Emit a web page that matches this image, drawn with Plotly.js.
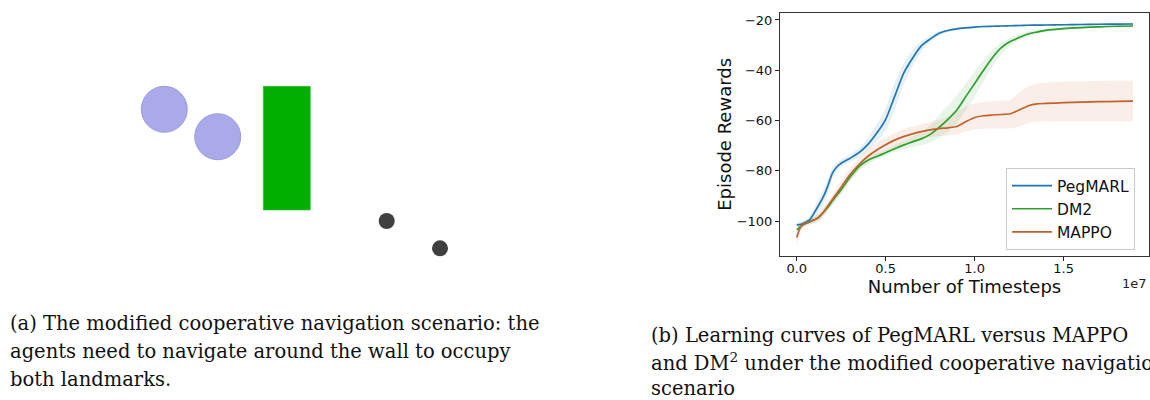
<!DOCTYPE html>
<html>
<head>
<meta charset="utf-8">
<script src="https://cdn.plot.ly/plotly-3.0.1.min.js"></script>
<style>html,body{margin:0;padding:0;background:#fff;}#chart{width:1150px;height:400px;}</style>
</head>
<body>
<div id="chart"></div>
<script>
// ---------- Learning-curve data (x in units of 1e7 timesteps) ----------
const timesteps = [0,0.025,0.05,0.075,0.1,0.125,0.15,0.175,0.2,0.225,0.25,0.3,0.35,0.4,0.45,0.5,0.55,0.6,0.65,0.7,0.75,0.8,0.85,0.9,0.95,1.0,1.05,1.1,1.15,1.2,1.25,1.3,1.35,1.4,1.5,1.6,1.7,1.8,1.89];

const pegmarlMean  = [-101.5,-101.3,-100.5,-99.3,-96.5,-93.5,-90.3,-86,-81,-78.5,-77,-75,-72.8,-69.5,-65,-59.5,-50.5,-41.3,-35.3,-30.3,-27.6,-25.3,-24.2,-23.5,-23.1,-22.8,-22.6,-22.5,-22.4,-22.3,-22.2,-22.1,-22.05,-22,-21.9,-21.8,-21.7,-21.65,-21.6];
const pegmarlUpper = [-100.5,-100.3,-99.5,-97.8,-94.5,-91,-87.5,-83,-78.8,-76.8,-75.5,-73.5,-71,-67,-61.5,-55,-45,-37.5,-32,-28.5,-26.2,-24.5,-23.6,-23,-22.7,-22.4,-22.2,-22.1,-22,-21.9,-21.8,-21.75,-21.7,-21.65,-21.55,-21.45,-21.4,-21.35,-21.3];
const pegmarlLower = [-102.5,-102.3,-101.5,-100.8,-98.5,-96,-93,-89,-83.2,-80.2,-78.5,-76.5,-74.6,-72,-68.5,-64,-56,-46,-38.5,-32.5,-28.8,-26.2,-24.8,-24,-23.5,-23.2,-23,-22.9,-22.8,-22.7,-22.6,-22.45,-22.4,-22.35,-22.25,-22.15,-22.05,-21.95,-21.9];

const dm2Mean  = [-103.5,-102,-101,-100.3,-99.5,-98.5,-96.5,-94.5,-92,-89.7,-87.5,-82.5,-78.3,-75.8,-74.3,-72.8,-71.2,-69.8,-68.5,-67.3,-65.5,-62.7,-59.5,-55.8,-50.5,-45.3,-40,-35,-31,-28.6,-27,-25.6,-24.8,-24.1,-23.4,-23,-22.7,-22.5,-22.4];
const dm2Upper = [-102,-100.8,-100,-99.3,-98.3,-97,-95,-92.8,-90.3,-88,-85.8,-81,-77,-74.6,-73,-71.5,-69.8,-68.2,-66.5,-64.7,-61.8,-57.8,-54,-50,-45.3,-40.5,-36,-32,-29,-27,-25.6,-24.6,-23.9,-23.4,-22.9,-22.6,-22.4,-22.2,-22.1];
const dm2Lower = [-105,-103.2,-102,-101.3,-100.7,-100,-98,-96.2,-93.7,-91.4,-89.2,-84,-79.6,-77.2,-75.6,-74.1,-72.6,-71.4,-70.5,-69.8,-68.8,-67,-64.5,-61,-56,-50.5,-44.5,-38.5,-33.5,-30.3,-28.3,-26.6,-25.7,-24.8,-23.9,-23.4,-23,-22.8,-22.7];

const mappoMean  = [-106.5,-102,-100.8,-100.2,-99.5,-98.3,-96.5,-94,-91.5,-89,-86.5,-81.5,-77.5,-74.2,-71.7,-69.6,-67.8,-66.4,-65.3,-64.4,-63.7,-63.2,-62.9,-62.4,-60.5,-58.8,-58.1,-57.8,-57.6,-57.3,-55.8,-54.2,-53.4,-53.2,-52.9,-52.7,-52.5,-52.4,-52.3];
const mappoUpper = [-103,-100.5,-99.6,-99,-98.2,-96.8,-94.8,-92.2,-89.5,-86.8,-84.2,-79,-75,-71.6,-69,-66.9,-65,-63.6,-62.4,-61.5,-60.7,-59.8,-58.5,-56.5,-54.5,-53.2,-52.6,-52.3,-52,-51.8,-49,-46.5,-45.3,-45,-44.6,-44.4,-44.3,-44.2,-44.2];
const mappoLower = [-110,-103.5,-102,-101.4,-100.8,-99.8,-98.2,-95.8,-93.5,-91.2,-88.8,-84,-80,-76.8,-74.4,-72.3,-70.6,-69.2,-68.2,-67.3,-66.7,-66.2,-66,-65.6,-64.4,-63.6,-63.3,-63.2,-63.2,-63.2,-62.5,-61,-60.5,-60.4,-60.3,-60.3,-60.3,-60.3,-60.3];

const seriesNames = ["PegMARL", "DM2", "MAPPO"];
const xTickVals = [0, 0.5, 1.0, 1.5];
const yTickVals = [-100, -80, -60, -40, -20];

// ---------- Scenario illustration (panel a), in panel pixel units ----------
const agentX = [164.3, 217.7];
const agentY = [109.3, 136.7];
const landmarkX = [386.7, 440];
const landmarkY = [221, 248.3];
const wallX = [263.3, 310.3];
const wallY = [86.3, 210];

// ---------- Captions ----------
const captionA = ["(a) The modified cooperative navigation scenario: the",
                  "agents need to navigate around the wall to occupy",
                  "both landmarks."];
const captionB = ["(b) Learning curves of PegMARL versus MAPPO",
                  "and DM<sup>2</sup> under the modified cooperative navigation",
                  "scenario"];

const colors = {PegMARL: "#1f77b4", DM2: "#2ca02c", MAPPO: "#c4602d"};
const bandColors = {PegMARL: "rgba(31,119,180,0.11)", DM2: "rgba(44,160,44,0.11)", MAPPO: "rgba(196,96,45,0.11)"};

const data = [];
const groups = [
  ["PegMARL", pegmarlMean, pegmarlUpper, pegmarlLower],
  ["DM2", dm2Mean, dm2Upper, dm2Lower],
  ["MAPPO", mappoMean, mappoUpper, mappoLower]
];
groups.forEach(([name, m, u, l]) => {
  data.push({x: timesteps, y: l, type: "scatter", mode: "lines", line: {width: 0, shape: "spline", smoothing: 0.6},
             showlegend: false, hoverinfo: "skip", xaxis: "x", yaxis: "y"});
  data.push({x: timesteps, y: u, type: "scatter", mode: "lines", line: {width: 0, shape: "spline", smoothing: 0.6},
             fill: "tonexty", fillcolor: bandColors[name], showlegend: false, hoverinfo: "skip", xaxis: "x", yaxis: "y"});
});
groups.forEach(([name, m]) => {
  data.push({x: timesteps, y: m, type: "scatter", mode: "lines", name: name,
             line: {color: colors[name], width: 1.7, shape: "spline", smoothing: 0.6}, xaxis: "x", yaxis: "y"});
});

// Panel (a) illustration
data.push({x: [wallX[0], wallX[1], wallX[1], wallX[0], wallX[0]],
           y: [wallY[0], wallY[0], wallY[1], wallY[1], wallY[0]],
           type: "scatter", mode: "lines", fill: "toself", fillcolor: "#00b000",
           line: {color: "#33bb33", width: 0.6}, showlegend: false, hoverinfo: "skip", xaxis: "x2", yaxis: "y2"});
data.push({x: agentX, y: agentY, type: "scatter", mode: "markers",
           marker: {size: 46, color: "#aaaaea", line: {color: "#9d9de0", width: 1}},
           showlegend: false, hoverinfo: "skip", xaxis: "x2", yaxis: "y2"});
data.push({x: landmarkX, y: landmarkY, type: "scatter", mode: "markers",
           marker: {size: 16, color: "#404040", line: {width: 0}},
           showlegend: false, hoverinfo: "skip", xaxis: "x2", yaxis: "y2"});

const capFont = {family: "DejaVu Serif, serif", size: 19.5, color: "#111"};
const annotations = [];
captionA.forEach((t, i) => annotations.push({text: t, xref: "paper", yref: "paper", x: 8/1150, y: 1 - [323, 351, 379][i]/400,
  xanchor: "left", yanchor: "middle", showarrow: false, font: capFont}));
captionB.forEach((t, i) => annotations.push({text: t, xref: "paper", yref: "paper", x: 649/1150, y: 1 - [335, 362, 388][i]/400,
  xanchor: "left", yanchor: "middle", showarrow: false, font: capFont}));
annotations.push({text: "1e7", xref: "paper", yref: "paper", x: 1149/1150, y: 1 - 283/400, xanchor: "right", yanchor: "middle",
  showarrow: false, font: {family: "DejaVu Sans", size: 13, color: "#222"}});

const axisFont = {family: "DejaVu Sans", size: 13, color: "#111"};
const layout = {
  width: 1150, height: 400,
  margin: {l: 0, r: 0, t: 0, b: 0},
  paper_bgcolor: "#fff", plot_bgcolor: "#fff",
  showlegend: true,
  legend: {x: 1006/1150, y: 1 - 168/400, xanchor: "left", yanchor: "top", traceorder: "normal", itemwidth: 40,
           bordercolor: "#cccccc", borderwidth: 1, bgcolor: "rgba(255,255,255,0.85)",
           font: {family: "DejaVu Sans", size: 15.5, color: "#111"}},
  xaxis: {domain: [780/1150, 1149/1150], range: [-0.094, 1.98], tickvals: xTickVals, tickformat: ".1f",
          ticks: "outside", ticklen: 4, tickcolor: "#222", showline: true, mirror: true, linecolor: "#333", linewidth: 1,
          showgrid: false, zeroline: false, tickfont: axisFont, ticklabelstandoff: -4,
          title: {text: "Number of Timesteps", font: {family: "DejaVu Sans", size: 18, color: "#111"}, standoff: 0},
          anchor: "y"},
  yaxis: {domain: [1 - 256/400, 1 - 12.7/400], range: [-113.9, -17.1], tickvals: yTickVals,
          ticks: "outside", ticklen: 4, tickcolor: "#222", showline: true, mirror: true, linecolor: "#333", linewidth: 1,
          showgrid: false, zeroline: false, tickfont: axisFont,
          title: {text: "Episode Rewards", font: {family: "DejaVu Sans", size: 18, color: "#111"}, standoff: 0},
          anchor: "x"},
  xaxis2: {domain: [0, 600/1150], range: [0, 600], visible: false, anchor: "y2", fixedrange: true},
  yaxis2: {domain: [0.25, 1], range: [300, 0], visible: false, anchor: "x2", fixedrange: true},
  annotations: annotations
};

Plotly.newPlot("chart", data, layout, {displayModeBar: false, staticPlot: true});
</script>
</body>
</html>
